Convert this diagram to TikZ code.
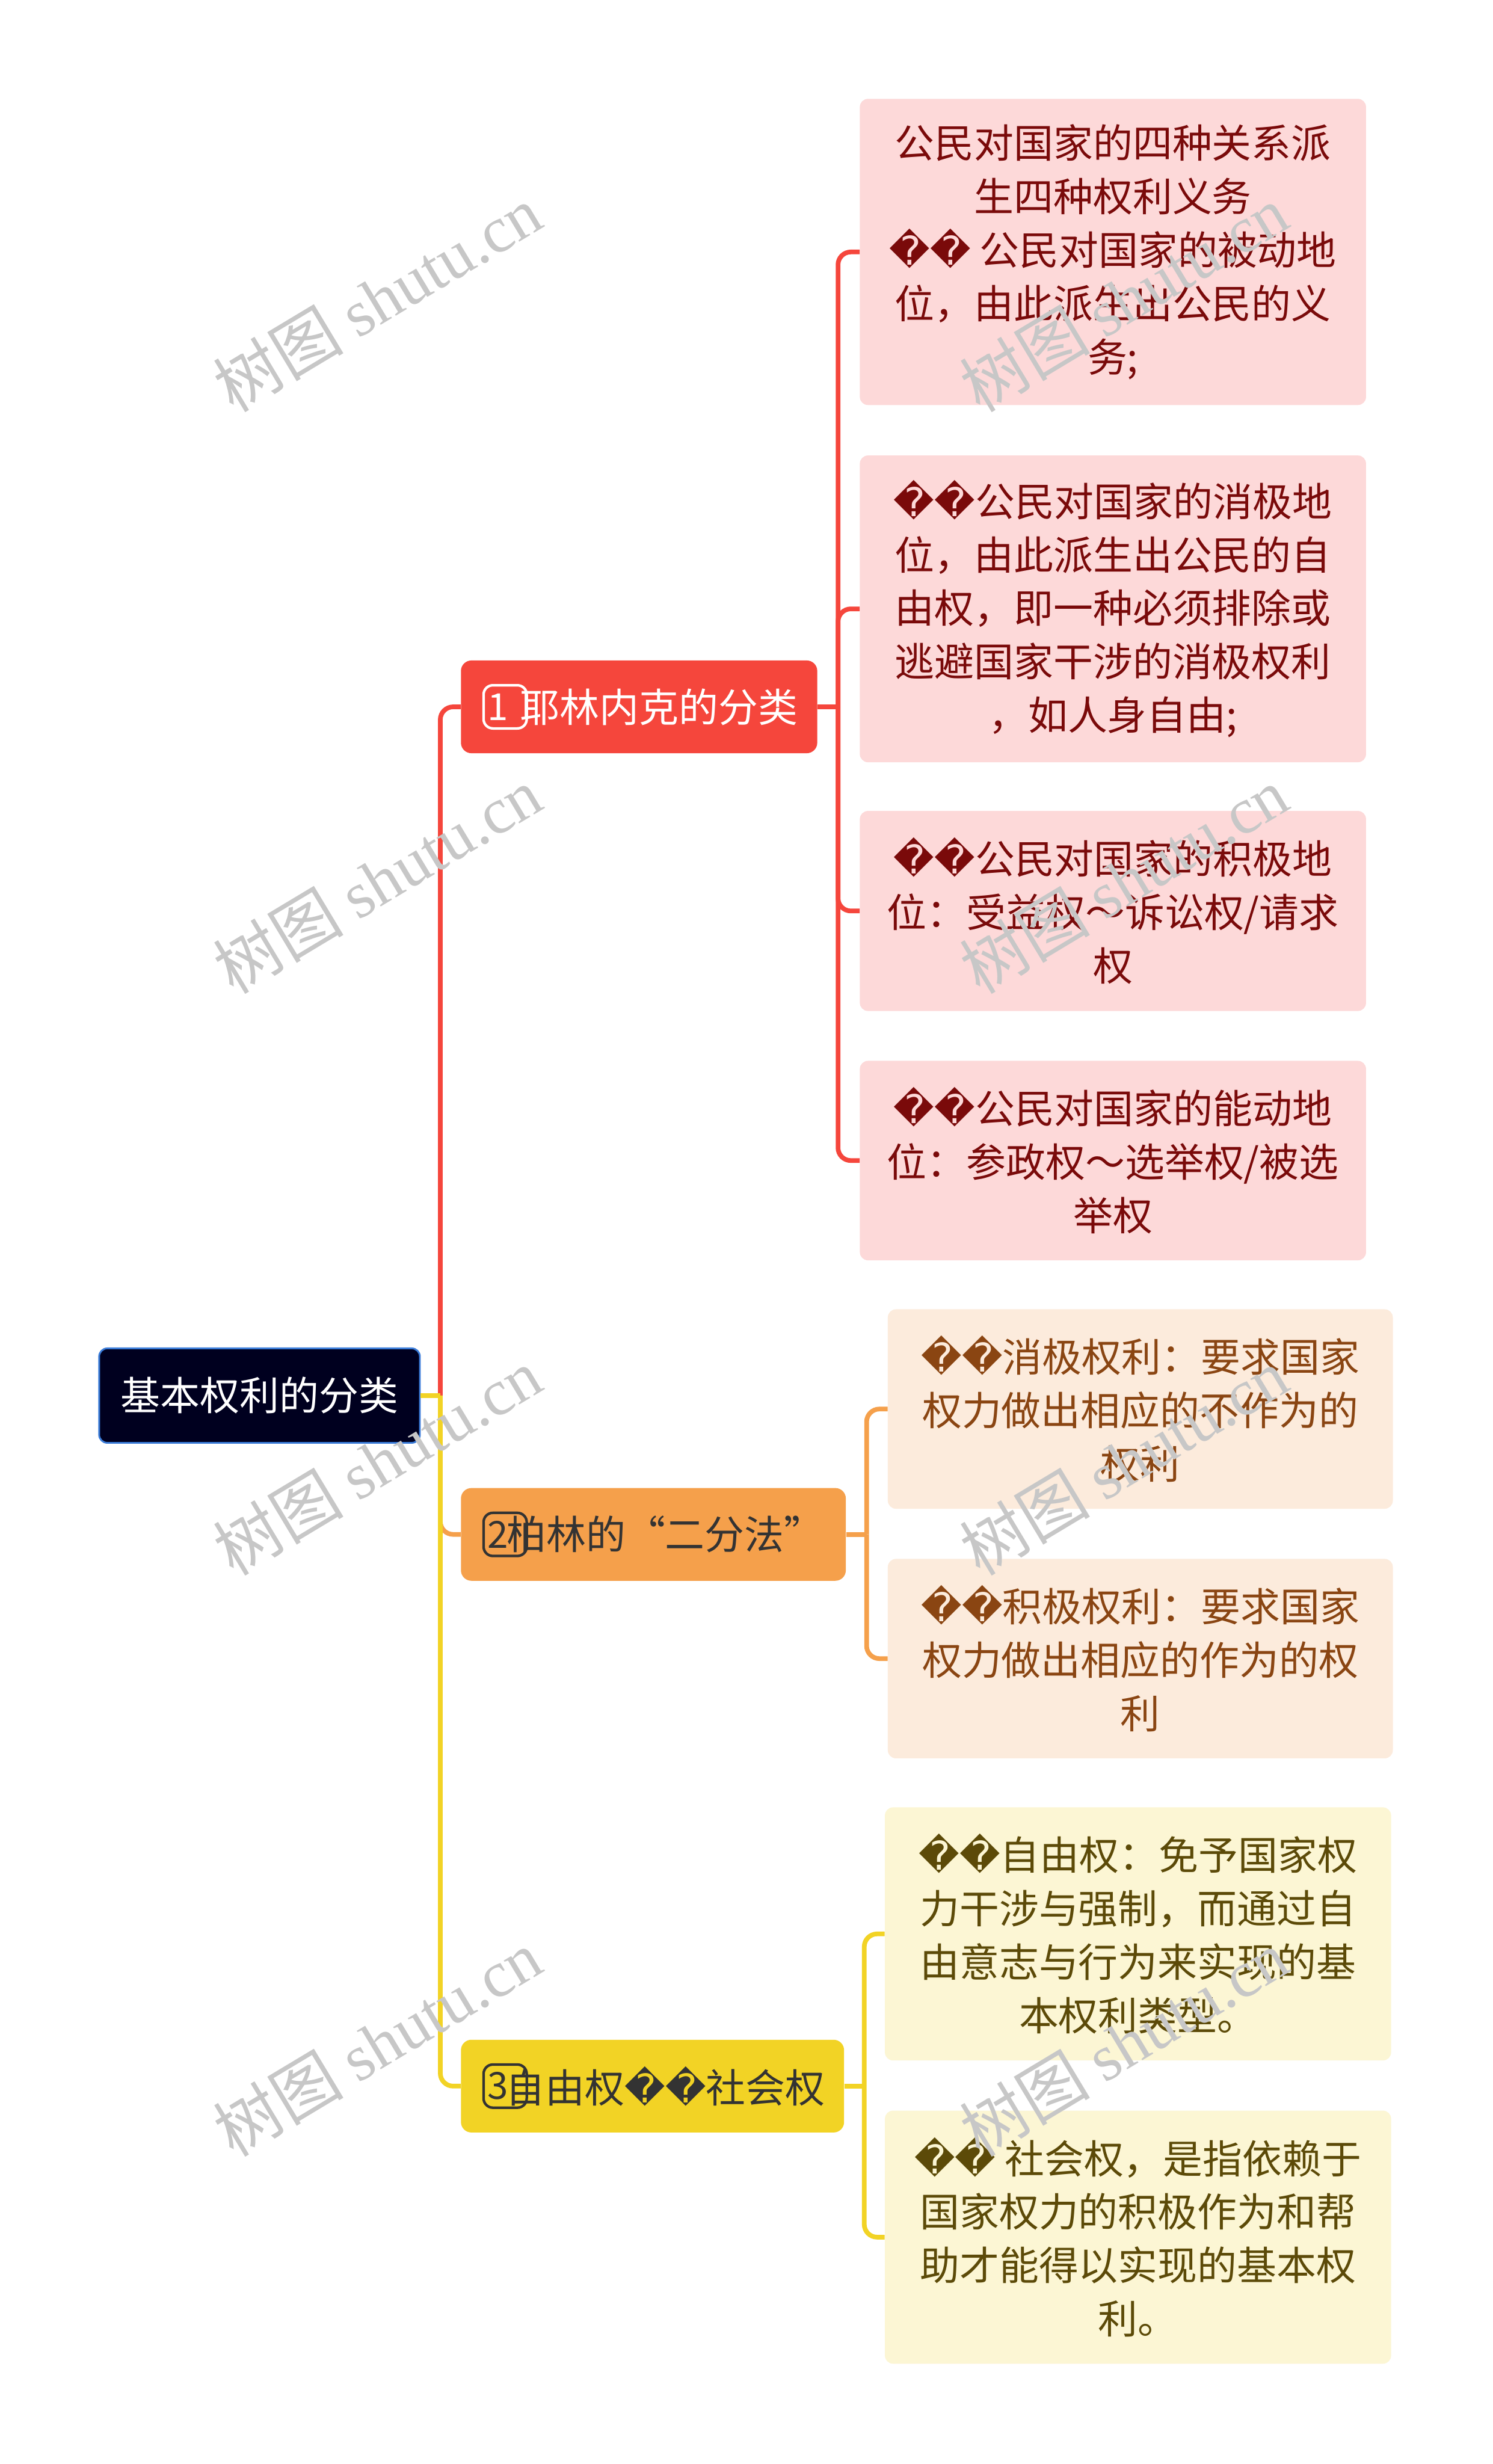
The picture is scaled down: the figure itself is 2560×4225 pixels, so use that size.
\documentclass[tikz,border=0pt]{standalone}
\usepackage{fontspec}
\setmainfont{Noto Sans CJK SC}
\newfontfamily\dejavu{DejaVu Sans}
\newfontfamily\wmlatin{Liberation Serif}
\usetikzlibrary{positioning}

\definecolor{rootfill}{HTML}{00001F}
\definecolor{rootline}{HTML}{3A7BD8}
\definecolor{redmain}{HTML}{F5463C}
\definecolor{orangemain}{HTML}{F5A04B}
\definecolor{yellowmain}{HTML}{F2D325}
\definecolor{redleaf}{HTML}{FDD9D9}
\definecolor{redtext}{HTML}{7A0A0A}
\definecolor{orangeleaf}{HTML}{FCEBDC}
\definecolor{orangetext}{HTML}{8A4512}
\definecolor{yellowleaf}{HTML}{FCF6D4}
\definecolor{yellowtext}{HTML}{5C4A08}
\definecolor{darktext}{HTML}{333333}

\newcommand{\bad}{{\dejavu\symbol{"FFFD}}}

\begin{document}
\begin{tikzpicture}[
    x=0.5pt, y=-0.5pt,
    every node/.style={font=\fontsize{34pt}{45.8pt}\selectfont},
    rootbox/.style={rectangle, draw=rootline, line width=1.5pt, fill=rootfill, text=white, rounded corners=7pt, minimum width=275pt, minimum height=81pt, inner sep=0pt},
    branchbox/.style={rectangle, rounded corners=9pt, minimum height=79.5pt, inner sep=0pt, anchor=west},
    numbox/.style={rectangle, draw, rounded corners=8pt, line width=2.2pt, minimum width=37pt, minimum height=37pt, inner sep=0pt, anchor=west, font=\fontsize{32pt}{32pt}\selectfont},
    leafbox/.style={rectangle, rounded corners=7pt, minimum width=434pt, inner sep=0pt, align=center, anchor=west},
    redbox/.style={leafbox, fill=redleaf, text=redtext},
    orangebox/.style={leafbox, fill=orangeleaf, text=orangetext},
    yellowbox/.style={leafbox, fill=yellowleaf, text=yellowtext},
    link/.style={line width=4pt, rounded corners=11pt},
    watermark/.style={text=black!22, font=\fontsize{56pt}{56pt}\selectfont, rotate=31}
]
\useasboundingbox[fill=white] (0,0) rectangle (2560,4225);

% root
\node[rootbox] (root) at (445,2393) {基本权利的分类};
\coordinate (j0) at (755,2393);

% main branches
\node[branchbox, fill=redmain, text=white, minimum width=305.5pt] (b1) at (790,1212) {\hspace{1em}耶林内克的分类};
\node[numbox, draw=white, text=white, right=18.5pt of b1.west] (num1) {\makebox[30pt][l]{1}};
\node[branchbox, fill=orangemain, text=darktext, minimum width=330pt] (b2) at (790,2631) {\hspace{0.6em}柏林的“二分法”};
\node[numbox, draw=darktext, text=darktext, right=18.5pt of b2.west] (num2) {\makebox[30pt][l]{2}};
\node[branchbox, fill=yellowmain, text=darktext, minimum width=328.5pt] (b3) at (790,3577) {\hspace{0.65em}自由权\bad{}\bad{}社会权};
\node[numbox, draw=darktext, text=darktext, right=18.5pt of b3.west] (num3) {\makebox[30pt][l]{3}};

% leaves of branch 1
\coordinate (j1) at (1437,1212);
\node[redbox, minimum height=262.5pt] (l1a) at (1474,432) {公民对国家的四种关系派\\生四种权利义务\\\bad{}\bad{} 公民对国家的被动地\\位，由此派生出公民的义\\务;};
\node[redbox, minimum height=263pt] (l1b) at (1474,1044) {\bad{}\bad{}公民对国家的消极地\\位，由此派生出公民的自\\由权，即一种必须排除或\\逃避国家干涉的消极权利\\，如人身自由;};
\node[redbox, minimum height=171.5pt] (l1c) at (1474,1562) {\bad{}\bad{}公民对国家的积极地\\位：受益权～诉讼权/请求\\权};
\node[redbox, minimum height=171pt] (l1d) at (1474,1990) {\bad{}\bad{}公民对国家的能动地\\位：参政权～选举权/被选\\举权};

% leaves of branch 2
\coordinate (j2) at (1486,2631);
\node[orangebox, minimum width=433pt, minimum height=171pt] (l2a) at (1522,2416) {\bad{}\bad{}消极权利：要求国家\\权力做出相应的不作为的\\权利};
\node[orangebox, minimum width=433pt, minimum height=171pt] (l2b) at (1522,2844) {\bad{}\bad{}积极权利：要求国家\\权力做出相应的作为的权\\利};

% leaves of branch 3
\coordinate (j3) at (1482,3577);
\node[yellowbox, minimum height=217pt] (l3a) at (1517,3316) {\bad{}\bad{}自由权：免予国家权\\力干涉与强制，而通过自\\由意志与行为来实现的基\\本权利类型。};
\node[yellowbox, minimum height=217pt] (l3b) at (1517,3836) {\bad{}\bad{} 社会权，是指依赖于\\国家权力的积极作为和帮\\助才能得以实现的基本权\\利。};

% connectors
\draw[link, draw=redmain] (j0) |- (b1.west);
\draw[link, draw=orangemain] (j0) |- (b2.west);
\draw[link, draw=yellowmain] (j0) |- (b3.west);
\draw[link, draw=yellowmain] (root.east) -- (j0);

\draw[link, draw=redmain] (b1.east) -- (j1);
\foreach \leaf in {l1a,l1b,l1c,l1d}
    \draw[link, draw=redmain] (j1) |- (\leaf.west);
\draw[link, draw=orangemain] (b2.east) -- (j2);
\foreach \leaf in {l2a,l2b}
    \draw[link, draw=orangemain] (j2) |- (\leaf.west);
\draw[link, draw=yellowmain] (b3.east) -- (j3);
\foreach \leaf in {l3a,l3b}
    \draw[link, draw=yellowmain] (j3) |- (\leaf.west);

% watermarks
\foreach \wy [count=\i] in {512,1509,2506,3503} {
    \node[watermark] (wml\i) at (647,\wy) {树图 {\wmlatin shutu.cn}};
    \node[watermark] (wmr\i) at (1927,\wy) {树图 {\wmlatin shutu.cn}};
}
\end{tikzpicture}
\end{document}
